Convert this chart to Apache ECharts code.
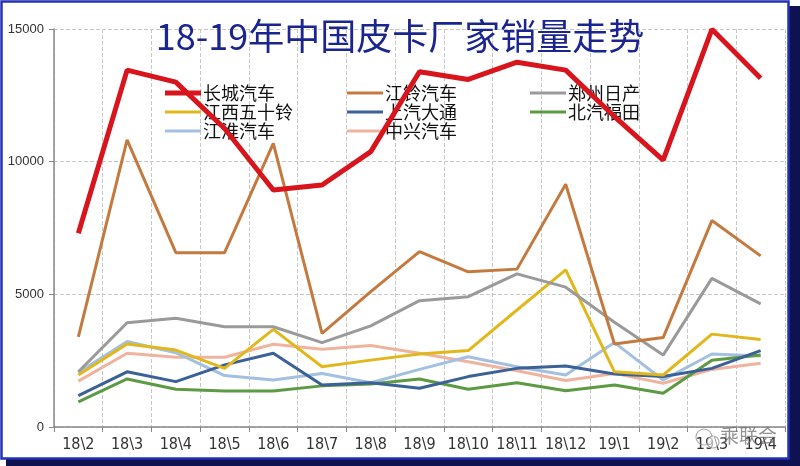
<!DOCTYPE html>
<html>
<head>
<meta charset="utf-8">
<script src="https://cdn.jsdelivr.net/npm/echarts@6/dist/echarts.min.js"></script>
<style>
html,body{margin:0;padding:0;background:#fff;}
#c{width:800px;height:466px;}
</style>
</head>
<body>
<div id="c"></div>
<script>
var categories = ['18\\2','18\\3','18\\4','18\\5','18\\6','18\\7','18\\8','18\\9','18\\10','18\\11','18\\12','19\\1','19\\2','19\\3','19\\4'];
var yTicks = [0, 5000, 10000, 15000];
var greatWall = [7300, 13450, 13000, 11250, 8930, 9120, 10380, 13390, 13100, 13750, 13450, 11700, 10060, 14990, 13140];
var jiangling = [3400, 10820, 6570, 6570, 10690, 3530, 5100, 6610, 5850, 5950, 9150, 3130, 3370, 7780, 6450];
var zhengzhouNissan = [2080, 3930, 4100, 3780, 3780, 3180, 3810, 4760, 4910, 5770, 5270, 3950, 2710, 5600, 4640];
var jiangxiIsuzu = [1960, 3130, 2900, 2210, 3680, 2270, 2520, 2750, 2880, 4410, 5920, 2080, 1960, 3500, 3300];
var saicMaxus = [1180, 2080, 1710, 2340, 2780, 1580, 1670, 1460, 1900, 2210, 2300, 2000, 1900, 2210, 2880];
var baicFoton = [950, 1810, 1420, 1360, 1360, 1550, 1620, 1810, 1420, 1670, 1370, 1580, 1270, 2520, 2710];
var jac = [2050, 3220, 2800, 1940, 1770, 2020, 1670, 2170, 2650, 2270, 1960, 3180, 1770, 2750, 2680];
var zxAuto = [1730, 2780, 2630, 2630, 3120, 2930, 3070, 2780, 2460, 2120, 1750, 2020, 1650, 2170, 2400];

var names = ['长城汽车','江铃汽车','郑州日产','江西五十铃','上汽大通','北汽福田','江淮汽车','中兴汽车'];
var dataSets = [greatWall, jiangling, zhengzhouNissan, jiangxiIsuzu, saicMaxus, baicFoton, jac, zxAuto];
var colors = ['#d8141c','#c47a3e','#9a9a9a','#e0b81c','#3c6196','#5e9a44','#a3c0e0','#efb4a0'];
var widths = [5,3,3,3,3,3,3,3];
var zs = [10,9,8,7,6,5,4,3];

var thickIcon = 'path://M0,0M0,4.5L36,4.5L36,9.5L0,9.5ZM36,14';
var thinIcon = 'path://M0,0M0,5.5L36,5.5L36,8.5L0,8.5ZM36,14';

var series = names.map(function(n,i){
  return {
    name: n, type: 'line', data: dataSets[i], symbol: 'none',
    z: zs[i],
    lineStyle: {color: colors[i], width: widths[i]},
    itemStyle: {color: colors[i]}
  };
});

function legendCol(left, idx){
  return {
    orient: 'vertical', left: left, top: 84, itemWidth: 36, itemHeight: 14, itemGap: 1,
    data: idx.map(function(i){ return {name: names[i], icon: widths[i] > 3 ? thickIcon : thinIcon}; }),
    selectedMode: false, padding: 0,
    textStyle: {fontSize: 18, color: '#111', fontFamily: 'Noto Sans CJK SC', lineHeight: 18, padding: [0,0,0,-3]}
  };
}

var chart = echarts.init(document.getElementById('c'));
chart.setOption({
  backgroundColor: '#ffffff',
  animation: false,
  title: {
    text: '18-19年中国皮卡厂家销量走势', left: 'center', top: 13,
    textStyle: {fontSize: 36, fontWeight: 'normal', color: '#1a2590', fontFamily: 'Noto Sans CJK SC'}
  },
  legend: [
    legendCol(165, [0, 3, 6]),
    legendCol(347, [1, 4, 7]),
    legendCol(530, [2, 5])
  ],
  grid: {left: 54, right: 15, top: 29, bottom: 39},
  xAxis: {
    type: 'category', data: categories, boundaryGap: true,
    axisLine: {lineStyle: {color: '#888', width: 1.5}},
    axisTick: {show: true, length: 5, lineStyle: {color: '#888'}},
    axisLabel: {interval: 0, fontSize: 16, color: '#333', margin: 10, fontFamily: "'Liberation Sans Narrow', 'DejaVu Sans Condensed', 'Liberation Sans', sans-serif"},
    splitLine: {show: true, interval: 0, lineStyle: {color: '#c8c8c8', type: 'dashed'}}
  },
  yAxis: {
    type: 'value', min: yTicks[0], max: yTicks[yTicks.length-1], interval: 5000,
    axisLine: {show: true, lineStyle: {color: '#888', width: 1.5}},
    axisTick: {show: true, length: 5, lineStyle: {color: '#888'}},
    axisLabel: {fontSize: 13, color: '#333', margin: 10, fontFamily: "'Liberation Sans', sans-serif",
      formatter: function(v){ return String(v); }},
    splitLine: {show: true, lineStyle: {color: '#c8c8c8', type: 'dashed'}}
  },
  graphic: [
    {type: 'rect', z: -10, silent: true, shape: {x: 6, y: 6, width: 794, height: 460}, style: {fill: '#0e1250'}},
    {type: 'rect', z: -9, silent: true, shape: {x: 1.5, y: 1.5, width: 787, height: 457}, style: {fill: '#ffffff', stroke: '#2430b8', lineWidth: 2.5}},
    {type: 'circle', z: 20, silent: true, shape: {cx: 704, cy: 437, r: 8}, style: {fill: 'none', stroke: 'rgba(140,140,140,0.7)', lineWidth: 1.2}},
    {type: 'circle', z: 20, silent: true, shape: {cx: 713, cy: 442, r: 6}, style: {fill: 'rgba(255,255,255,0.6)', stroke: 'rgba(140,140,140,0.7)', lineWidth: 1.2}},
    {type: 'text', z: 20, silent: true, left: 720, top: 426, style: {text: '乘联会', fontSize: 19, fill: 'rgba(110,110,110,0.75)', fontFamily: 'Noto Sans CJK SC'}}
  ],
  series: series
});
</script>
</body>
</html>
